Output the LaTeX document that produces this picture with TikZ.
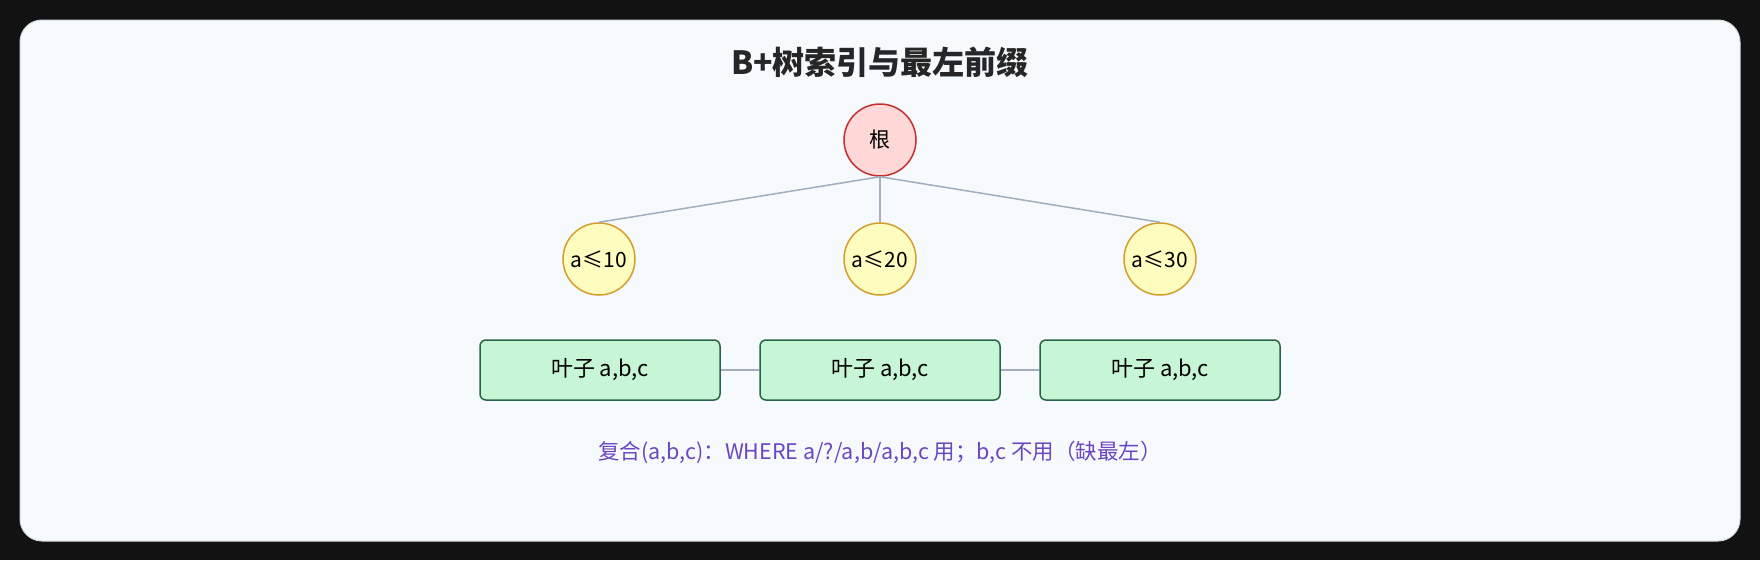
\documentclass[tikz,border=0pt]{standalone}
\usepackage{fontspec}
\setmainfont{Noto Sans CJK SC}
\usepackage{tikz}

\definecolor{cardbg}{HTML}{F6FAFD}
\definecolor{edgec}{HTML}{A0AEC0}
\definecolor{rootfill}{HTML}{FED7D7}
\definecolor{rootdraw}{HTML}{C53030}
\definecolor{keyfill}{HTML}{FEFCBF}
\definecolor{keydraw}{HTML}{D69E2E}
\definecolor{leaffill}{HTML}{C6F6D5}
\definecolor{leafdraw}{HTML}{276749}
\definecolor{notec}{HTML}{6B46C1}

\tikzset{
  rootnode/.style={circle, minimum size=72pt, inner sep=0pt, fill=rootfill, draw=rootdraw, line width=1.5pt, font=\fontsize{21}{24}\selectfont},
  keynode/.style={circle, minimum size=72pt, inner sep=0pt, fill=keyfill, draw=keydraw, line width=1.5pt, font=\fontsize{21}{24}\selectfont},
  leafnode/.style={rectangle, rounded corners=6pt, minimum width=240pt, minimum height=60pt, fill=leaffill, draw=leafdraw, line width=1.5pt, font=\fontsize{22}{26}\selectfont},
  link/.style={draw=edgec, line width=1.5pt}
}

\begin{document}
\begin{tikzpicture}[x=1pt, y=-1pt]
\fill[black!93] (0,0) rectangle (1760,560);
\useasboundingbox (0,0) rectangle (1760,560);
\fill[cardbg, draw=white!85!black, line width=1pt, rounded corners=22pt] (20,20) rectangle (1740,541);

\node[font=\fontsize{32}{38}\selectfont\bfseries, text=black!85] (title) at (880,62) {B+树索引与最左前缀};

\node[rootnode] (root) at (880,140) {根};

\node[keynode] (k1) at (599,259) {a≤10};
\node[keynode] (k2) at (880,259) {a≤20};
\node[keynode] (k3) at (1160,259) {a≤30};

\node[leafnode] (l1) at (600,370) {叶子 a,b,c};
\node[leafnode] (l2) at (880,370) {叶子 a,b,c};
\node[leafnode] (l3) at (1160,370) {叶子 a,b,c};

\draw[link] (root.south) -- (k1.north);
\draw[link] (root.south) -- (k2.north);
\draw[link] (root.south) -- (k3.north);
\draw[link] (l1) -- (l2);
\draw[link] (l2) -- (l3);

\node[font=\fontsize{21.5}{25}\selectfont, text=notec] (note) at (880,452) {复合(a,b,c)：WHERE a/?/a,b/a,b,c 用；b,c 不用（缺最左）};
\end{tikzpicture}
\end{document}
